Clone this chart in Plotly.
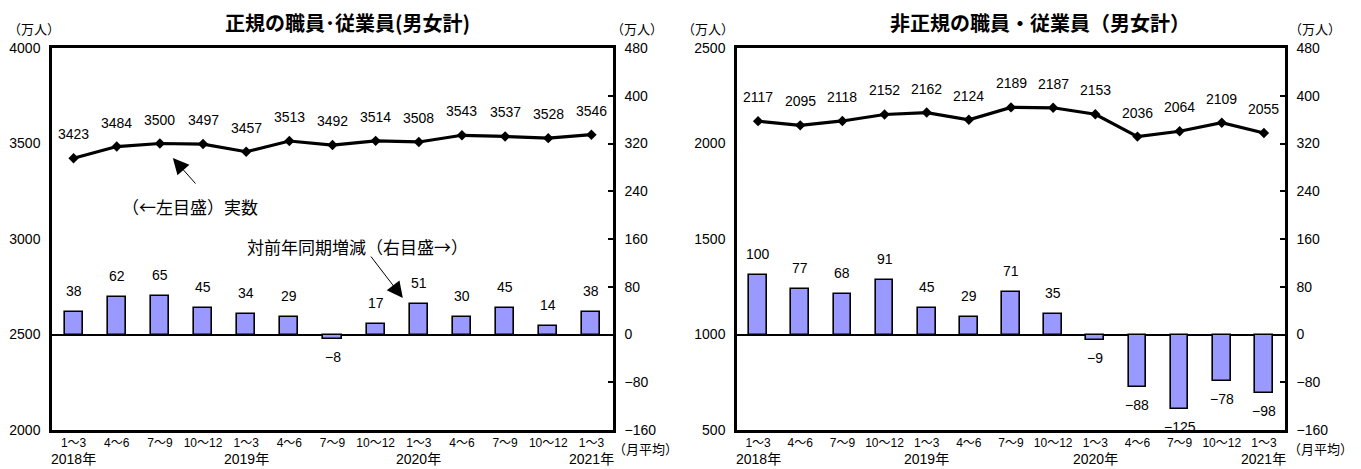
import plotly.graph_objects as go

# ---- data ----
quarters = ["1～3", "4～6", "7～9", "10～12", "1～3", "4～6", "7～9", "10～12",
            "1～3", "4～6", "7～9", "10～12", "1～3"]
years = ["2018年", "2019年", "2020年", "2021年"]
year_idx = [0, 4, 8, 12]
regular_level = [3423, 3484, 3500, 3497, 3457, 3513, 3492, 3514, 3508, 3543, 3537, 3528, 3546]
regular_change = [38, 62, 65, 45, 34, 29, -8, 17, 51, 30, 45, 14, 38]
nonreg_level = [2117, 2095, 2118, 2152, 2162, 2124, 2189, 2187, 2153, 2036, 2064, 2109, 2055]
nonreg_change = [100, 77, 68, 91, 45, 29, 71, 35, -9, -88, -125, -78, -98]
left_ticks_reg = [2000, 2500, 3000, 3500, 4000]
left_ticks_non = [500, 1000, 1500, 2000, 2500]
right_ticks = [-160, -80, 0, 80, 160, 240, 320, 400, 480]

x = list(range(len(quarters)))

# page has an 8px body margin -> figure is shrunk and laid out in window pixels minus 8
OFF = 8
W, H = 1361 - OFF, 469 - OFF


def fx(px):
    return (px - OFF) / W


def fy(py):
    return 1 - (py - OFF) / H


NUM = "Liberation Sans Narrow, Arial Narrow, Liberation Sans, Noto Sans CJK JP, sans-serif"
JP = "Noto Sans CJK JP, sans-serif"
BAR = "#9999FF"

fig = go.Figure()

panels = [
    dict(level=regular_level, change=regular_change, xa="x", ya="y", ya2="y2"),
    dict(level=nonreg_level, change=nonreg_change, xa="x2", ya="y3", ya2="y4"),
]

ann = []
for p in panels:
    fig.add_trace(go.Bar(x=x, y=p["change"], xaxis=p["xa"], yaxis=p["ya2"],
                         marker=dict(color=BAR, line=dict(color="black", width=1.6)),
                         width=0.42, showlegend=False, hoverinfo="skip"))
    fig.add_trace(go.Scatter(x=x, y=p["level"], xaxis=p["xa"], yaxis=p["ya"],
                             mode="lines+markers",
                             line=dict(color="black", width=3.2),
                             marker=dict(symbol="diamond", size=8, color="black"),
                             showlegend=False, hoverinfo="skip"))
    for i, v in enumerate(p["level"]):
        ann.append(dict(x=i, y=v, xref=p["xa"], yref=p["ya"], text=str(v), showarrow=False,
                        xanchor="center", yanchor="bottom", yshift=14,
                        font=dict(family=NUM, size=14, color="black")))
    for i, v in enumerate(p["change"]):
        if v >= 0:
            ann.append(dict(x=i, y=v, xref=p["xa"], yref=p["ya2"], text=str(v), showarrow=False,
                            xanchor="center", yanchor="bottom", yshift=11,
                            font=dict(family=NUM, size=14, color="black")))
        else:
            ann.append(dict(x=i, y=v, xref=p["xa"], yref=p["ya2"], text="−" + str(-v), showarrow=False,
                            xanchor="center", yanchor="top", yshift=-8,
                            font=dict(family=NUM, size=14, color="black")))
    for yl, yi in zip(years, year_idx):
        ann.append(dict(x=yi, y=fy(459), xref=p["xa"], yref="paper", text=yl, showarrow=False,
                        xanchor="center", yanchor="middle",
                        font=dict(family=NUM, size=14, color="black")))

# titles
ann.append(dict(x=fx(347), y=fy(22), xref="paper", yref="paper",
                text="<b>正規の職員･従業員(男女計)</b>", showarrow=False,
                xanchor="center", yanchor="middle", font=dict(family=JP, size=20, color="black")))
ann.append(dict(x=fx(1040), y=fy(22), xref="paper", yref="paper",
                text="<b>非正規の職員・従業員（男女計）</b>", showarrow=False,
                xanchor="center", yanchor="middle", font=dict(family=JP, size=20, color="black")))
# units
for px in [34, 637, 708, 1315]:
    ann.append(dict(x=fx(px), y=fy(28), xref="paper", yref="paper", text="（万人）",
                    showarrow=False, xanchor="center", yanchor="middle",
                    font=dict(family=JP, size=13, color="black")))
for px in [645, 1320]:
    ann.append(dict(x=fx(px), y=fy(448), xref="paper", yref="paper", text="（月平均）",
                    showarrow=False, xanchor="center", yanchor="middle",
                    font=dict(family=JP, size=13, color="black")))

# callouts (left panel)
ann.append(dict(x=2.70, y=3168, xref="x", yref="y", text="（←左目盛）実数", showarrow=False,
                xanchor="center", yanchor="middle", font=dict(family=JP, size=17, color="black")))
ann.append(dict(x=2.30, y=3424, xref="x", yref="y", text="", showarrow=True, ax=24, ay=27,
                arrowhead=2, arrowsize=3.2, arrowwidth=1, arrowcolor="black", standoff=0))
ann.append(dict(x=6.59, y=147, xref="x", yref="y2", text="対前年同期増減（右目盛→）", showarrow=False,
                xanchor="center", yanchor="middle", font=dict(family=JP, size=17, color="black")))
ann.append(dict(x=7.63, y=61, xref="x", yref="y2", text="", showarrow=True, ax=-33, ay=-43,
                arrowhead=2, arrowsize=3.2, arrowwidth=1, arrowcolor="black", standoff=0))

ydom = [fy(430), fy(48)]
xcommon = dict(range=[-0.5, 12.5], tickmode="array", tickvals=x, ticktext=quarters,
               showline=True, linewidth=2.5, linecolor="black", mirror=True, ticks="",
               showgrid=False, zeroline=False, fixedrange=True, automargin=False,
               tickfont=dict(family=NUM, size=12, color="black"))
ycommon = dict(showline=True, linewidth=2.5, linecolor="black", showgrid=False, zeroline=False,
               domain=ydom, tickfont=dict(family=NUM, size=14, color="black"), ticks="",
               ticklabelstandoff=6, automargin=False)
y2common = dict(side="right", range=[-160, 480], tickmode="array", tickvals=right_ticks,
                showline=True, linewidth=2.5, linecolor="black", showgrid=False,
                zeroline=True, zerolinecolor="black", zerolinewidth=1.6,
                ticks="inside", ticklen=5, tickwidth=2, tickcolor="black", automargin=False,
                tickfont=dict(family=NUM, size=14, color="black"), ticklabelstandoff=6)

fig.update_layout(
    width=W, height=H,
    margin=dict(l=0, r=0, t=0, b=0, autoexpand=False),
    paper_bgcolor="white", plot_bgcolor="white",
    bargap=0,
    xaxis=dict(domain=[fx(52), fx(613)], anchor="y", **xcommon),
    xaxis2=dict(domain=[fx(737), fx(1285)], anchor="y3", **xcommon),
    yaxis=dict(range=[2000, 4000], tickmode="array", tickvals=left_ticks_reg, anchor="x", **ycommon),
    yaxis2=dict(overlaying="y", anchor="x", **y2common),
    yaxis3=dict(range=[500, 2500], tickmode="array", tickvals=left_ticks_non, anchor="x2", **ycommon),
    yaxis4=dict(overlaying="y3", anchor="x2", **y2common),
    annotations=ann,
)

fig.write_html("out.html")
